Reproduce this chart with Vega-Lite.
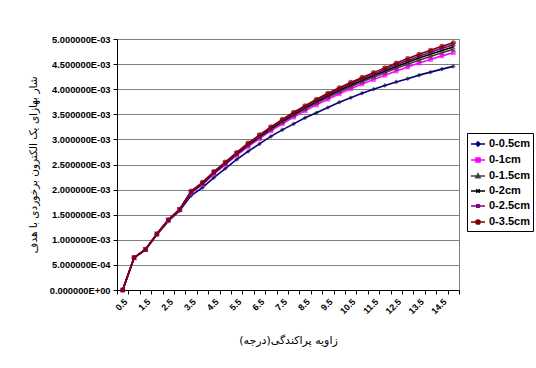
{
"$schema": "https://vega.github.io/schema/vega-lite/v6.json",
"autosize": {"type": "none"},
"width": 342,
"height": 251,
"padding": {"left": 117, "top": 39, "right": 77, "bottom": 78},
"background": "white",
"config": {"view": {"stroke": "#808080", "strokeWidth": 1}},
"data": {"values": [
{"a":0.5,"s":"0-0.5cm","v":1e-7},{"a":1,"s":"0-0.5cm","v":0.64e-3},{"a":1.5,"s":"0-0.5cm","v":0.80e-3},{"a":2,"s":"0-0.5cm","v":1.10e-3},{"a":2.5,"s":"0-0.5cm","v":1.37e-3},{"a":3,"s":"0-0.5cm","v":1.58e-3},{"a":3.5,"s":"0-0.5cm","v":1.88e-3},{"a":4,"s":"0-0.5cm","v":2.04e-3},{"a":4.5,"s":"0-0.5cm","v":2.24e-3},{"a":5,"s":"0-0.5cm","v":2.42e-3},{"a":5.5,"s":"0-0.5cm","v":2.60e-3},{"a":6,"s":"0-0.5cm","v":2.76e-3},{"a":6.5,"s":"0-0.5cm","v":2.91e-3},{"a":7,"s":"0-0.5cm","v":3.06e-3},{"a":7.5,"s":"0-0.5cm","v":3.19e-3},{"a":8,"s":"0-0.5cm","v":3.31e-3},{"a":8.5,"s":"0-0.5cm","v":3.43e-3},{"a":9,"s":"0-0.5cm","v":3.53e-3},{"a":9.5,"s":"0-0.5cm","v":3.635e-3},{"a":10,"s":"0-0.5cm","v":3.74e-3},{"a":10.5,"s":"0-0.5cm","v":3.83e-3},{"a":11,"s":"0-0.5cm","v":3.92e-3},{"a":11.5,"s":"0-0.5cm","v":4.00e-3},{"a":12,"s":"0-0.5cm","v":4.075e-3},{"a":12.5,"s":"0-0.5cm","v":4.145e-3},{"a":13,"s":"0-0.5cm","v":4.21e-3},{"a":13.5,"s":"0-0.5cm","v":4.28e-3},{"a":14,"s":"0-0.5cm","v":4.34e-3},{"a":14.5,"s":"0-0.5cm","v":4.40e-3},{"a":15,"s":"0-0.5cm","v":4.455e-3},
{"a":0.5,"s":"0-1cm","v":1e-7},{"a":1,"s":"0-1cm","v":0.643e-3},{"a":1.5,"s":"0-1cm","v":0.806e-3},{"a":2,"s":"0-1cm","v":1.112e-3},{"a":2.5,"s":"0-1cm","v":1.387e-3},{"a":3,"s":"0-1cm","v":1.597e-3},{"a":3.5,"s":"0-1cm","v":1.932e-3},{"a":4,"s":"0-1cm","v":2.101e-3},{"a":4.5,"s":"0-1cm","v":2.310e-3},{"a":5,"s":"0-1cm","v":2.495e-3},{"a":5.5,"s":"0-1cm","v":2.681e-3},{"a":6,"s":"0-1cm","v":2.856e-3},{"a":6.5,"s":"0-1cm","v":3.014e-3},{"a":7,"s":"0-1cm","v":3.170e-3},{"a":7.5,"s":"0-1cm","v":3.312e-3},{"a":8,"s":"0-1cm","v":3.443e-3},{"a":8.5,"s":"0-1cm","v":3.569e-3},{"a":9,"s":"0-1cm","v":3.687e-3},{"a":9.5,"s":"0-1cm","v":3.800e-3},{"a":10,"s":"0-1cm","v":3.908e-3},{"a":10.5,"s":"0-1cm","v":4.007e-3},{"a":11,"s":"0-1cm","v":4.103e-3},{"a":11.5,"s":"0-1cm","v":4.191e-3},{"a":12,"s":"0-1cm","v":4.278e-3},{"a":12.5,"s":"0-1cm","v":4.363e-3},{"a":13,"s":"0-1cm","v":4.442e-3},{"a":13.5,"s":"0-1cm","v":4.521e-3},{"a":14,"s":"0-1cm","v":4.592e-3},{"a":14.5,"s":"0-1cm","v":4.664e-3},{"a":15,"s":"0-1cm","v":4.728e-3},
{"a":0.5,"s":"0-1.5cm","v":1e-7},{"a":1,"s":"0-1.5cm","v":0.644e-3},{"a":1.5,"s":"0-1.5cm","v":0.807e-3},{"a":2,"s":"0-1.5cm","v":1.114e-3},{"a":2.5,"s":"0-1.5cm","v":1.392e-3},{"a":3,"s":"0-1.5cm","v":1.602e-3},{"a":3.5,"s":"0-1.5cm","v":1.945e-3},{"a":4,"s":"0-1.5cm","v":2.116e-3},{"a":4.5,"s":"0-1.5cm","v":2.326e-3},{"a":5,"s":"0-1.5cm","v":2.514e-3},{"a":5.5,"s":"0-1.5cm","v":2.701e-3},{"a":6,"s":"0-1.5cm","v":2.879e-3},{"a":6.5,"s":"0-1.5cm","v":3.040e-3},{"a":7,"s":"0-1.5cm","v":3.197e-3},{"a":7.5,"s":"0-1.5cm","v":3.341e-3},{"a":8,"s":"0-1.5cm","v":3.476e-3},{"a":8.5,"s":"0-1.5cm","v":3.603e-3},{"a":9,"s":"0-1.5cm","v":3.724e-3},{"a":9.5,"s":"0-1.5cm","v":3.840e-3},{"a":10,"s":"0-1.5cm","v":3.949e-3},{"a":10.5,"s":"0-1.5cm","v":4.050e-3},{"a":11,"s":"0-1.5cm","v":4.147e-3},{"a":11.5,"s":"0-1.5cm","v":4.238e-3},{"a":12,"s":"0-1.5cm","v":4.327e-3},{"a":12.5,"s":"0-1.5cm","v":4.415e-3},{"a":13,"s":"0-1.5cm","v":4.498e-3},{"a":13.5,"s":"0-1.5cm","v":4.579e-3},{"a":14,"s":"0-1.5cm","v":4.653e-3},{"a":14.5,"s":"0-1.5cm","v":4.728e-3},{"a":15,"s":"0-1.5cm","v":4.793e-3},
{"a":0.5,"s":"0-2cm","v":1e-7},{"a":1,"s":"0-2cm","v":0.644e-3},{"a":1.5,"s":"0-2cm","v":0.808e-3},{"a":2,"s":"0-2cm","v":1.116e-3},{"a":2.5,"s":"0-2cm","v":1.395e-3},{"a":3,"s":"0-2cm","v":1.605e-3},{"a":3.5,"s":"0-2cm","v":1.954e-3},{"a":4,"s":"0-2cm","v":2.126e-3},{"a":4.5,"s":"0-2cm","v":2.338e-3},{"a":5,"s":"0-2cm","v":2.527e-3},{"a":5.5,"s":"0-2cm","v":2.715e-3},{"a":6,"s":"0-2cm","v":2.895e-3},{"a":6.5,"s":"0-2cm","v":3.058e-3},{"a":7,"s":"0-2cm","v":3.216e-3},{"a":7.5,"s":"0-2cm","v":3.362e-3},{"a":8,"s":"0-2cm","v":3.499e-3},{"a":8.5,"s":"0-2cm","v":3.627e-3},{"a":9,"s":"0-2cm","v":3.751e-3},{"a":9.5,"s":"0-2cm","v":3.869e-3},{"a":10,"s":"0-2cm","v":3.978e-3},{"a":10.5,"s":"0-2cm","v":4.080e-3},{"a":11,"s":"0-2cm","v":4.178e-3},{"a":11.5,"s":"0-2cm","v":4.271e-3},{"a":12,"s":"0-2cm","v":4.362e-3},{"a":12.5,"s":"0-2cm","v":4.453e-3},{"a":13,"s":"0-2cm","v":4.538e-3},{"a":13.5,"s":"0-2cm","v":4.620e-3},{"a":14,"s":"0-2cm","v":4.697e-3},{"a":14.5,"s":"0-2cm","v":4.773e-3},{"a":15,"s":"0-2cm","v":4.840e-3},
{"a":0.5,"s":"0-2.5cm","v":1e-7},{"a":1,"s":"0-2.5cm","v":0.645e-3},{"a":1.5,"s":"0-2.5cm","v":0.809e-3},{"a":2,"s":"0-2.5cm","v":1.118e-3},{"a":2.5,"s":"0-2.5cm","v":1.397e-3},{"a":3,"s":"0-2.5cm","v":1.607e-3},{"a":3.5,"s":"0-2.5cm","v":1.962e-3},{"a":4,"s":"0-2.5cm","v":2.136e-3},{"a":4.5,"s":"0-2.5cm","v":2.349e-3},{"a":5,"s":"0-2.5cm","v":2.538e-3},{"a":5.5,"s":"0-2.5cm","v":2.727e-3},{"a":6,"s":"0-2.5cm","v":2.910e-3},{"a":6.5,"s":"0-2.5cm","v":3.074e-3},{"a":7,"s":"0-2.5cm","v":3.233e-3},{"a":7.5,"s":"0-2.5cm","v":3.381e-3},{"a":8,"s":"0-2.5cm","v":3.519e-3},{"a":8.5,"s":"0-2.5cm","v":3.648e-3},{"a":9,"s":"0-2.5cm","v":3.776e-3},{"a":9.5,"s":"0-2.5cm","v":3.894e-3},{"a":10,"s":"0-2.5cm","v":4.004e-3},{"a":10.5,"s":"0-2.5cm","v":4.108e-3},{"a":11,"s":"0-2.5cm","v":4.207e-3},{"a":11.5,"s":"0-2.5cm","v":4.300e-3},{"a":12,"s":"0-2.5cm","v":4.394e-3},{"a":12.5,"s":"0-2.5cm","v":4.486e-3},{"a":13,"s":"0-2.5cm","v":4.574e-3},{"a":13.5,"s":"0-2.5cm","v":4.658e-3},{"a":14,"s":"0-2.5cm","v":4.736e-3},{"a":14.5,"s":"0-2.5cm","v":4.814e-3},{"a":15,"s":"0-2.5cm","v":4.883e-3},
{"a":0.5,"s":"0-3.5cm","v":1e-7},{"a":1,"s":"0-3.5cm","v":0.645e-3},{"a":1.5,"s":"0-3.5cm","v":0.81e-3},{"a":2,"s":"0-3.5cm","v":1.12e-3},{"a":2.5,"s":"0-3.5cm","v":1.40e-3},{"a":3,"s":"0-3.5cm","v":1.61e-3},{"a":3.5,"s":"0-3.5cm","v":1.97e-3},{"a":4,"s":"0-3.5cm","v":2.145e-3},{"a":4.5,"s":"0-3.5cm","v":2.36e-3},{"a":5,"s":"0-3.5cm","v":2.55e-3},{"a":5.5,"s":"0-3.5cm","v":2.74e-3},{"a":6,"s":"0-3.5cm","v":2.925e-3},{"a":6.5,"s":"0-3.5cm","v":3.09e-3},{"a":7,"s":"0-3.5cm","v":3.25e-3},{"a":7.5,"s":"0-3.5cm","v":3.40e-3},{"a":8,"s":"0-3.5cm","v":3.54e-3},{"a":8.5,"s":"0-3.5cm","v":3.67e-3},{"a":9,"s":"0-3.5cm","v":3.80e-3},{"a":9.5,"s":"0-3.5cm","v":3.92e-3},{"a":10,"s":"0-3.5cm","v":4.03e-3},{"a":10.5,"s":"0-3.5cm","v":4.135e-3},{"a":11,"s":"0-3.5cm","v":4.235e-3},{"a":11.5,"s":"0-3.5cm","v":4.33e-3},{"a":12,"s":"0-3.5cm","v":4.425e-3},{"a":12.5,"s":"0-3.5cm","v":4.52e-3},{"a":13,"s":"0-3.5cm","v":4.61e-3},{"a":13.5,"s":"0-3.5cm","v":4.695e-3},{"a":14,"s":"0-3.5cm","v":4.775e-3},{"a":14.5,"s":"0-3.5cm","v":4.855e-3},{"a":15,"s":"0-3.5cm","v":4.925e-3}
]},
"encoding": {
  "x": {"field": "a", "type": "ordinal", "bandPosition": 0.5,
    "scale": {"type": "band", "paddingInner": 0, "paddingOuter": 0},
    "axis": {"title": "زاویه پراکندگی(درجه)", "titleFont": "DejaVu Sans", "titleFontWeight": "normal", "titleFontSize": 11, "titleColor": "black", "titlePadding": 19,
      "labelAngle": -45, "labelExpr": "datum.value % 1 == 0.5 ? datum.label : ''", "labelFont": "Liberation Sans", "labelFontWeight": "bold", "labelFontSize": 9, "labelColor": "black",
      "tickBand": "extent", "tickSize": 4, "tickColor": "black", "domainColor": "black", "grid": false, "labelPadding": 3}},
  "y": {"field": "v", "type": "quantitative",
    "scale": {"domain": [0, 0.005], "nice": false},
    "axis": {"title": "شار بهازای یک الکترون برخوردی با هدف", "titleFont": "DejaVu Sans", "titleFontWeight": "normal", "titleFontSize": 10.5, "titleColor": "black", "titlePadding": 11,
      "values": [0, 0.0005, 0.001, 0.0015, 0.002, 0.0025, 0.003, 0.0035, 0.004, 0.0045, 0.005],
      "labelExpr": "datum.value < 1e-9 ? '0.000000E+00' : format(datum.value / pow(10, floor(log(datum.value) / LN10 + 1e-9)), '.6f') + 'E-0' + (-floor(log(datum.value) / LN10 + 1e-9))",
      "labelFont": "Liberation Sans", "labelFontWeight": "bold", "labelFontSize": 9.3, "labelColor": "black", "labelPadding": 3,
      "tickSize": 4, "tickColor": "black", "domainColor": "black", "grid": true, "gridColor": "#808080", "gridWidth": 1}}
},
"layer": [
  {"mark": {"type": "line", "strokeWidth": 1.6},
   "encoding": {"color": {"field": "s", "type": "nominal",
     "scale": {"domain": ["0-0.5cm", "0-1cm", "0-1.5cm", "0-2cm", "0-2.5cm", "0-3.5cm"], "range": ["#000080", "#FF00FF", "#404040", "#000000", "#800080", "#800000"]},
     "legend": {"orient": "none", "legendX": 350, "legendY": 94, "title": null, "strokeColor": "black", "fillColor": "white", "padding": 3,
       "labelFont": "Liberation Sans", "labelFontWeight": "bold", "labelFontSize": 11, "labelColor": "black", "labelOffset": 3,
       "symbolSize": 196, "rowPadding": 2, "symbolStrokeWidth": 1.5,
       "encode": {"symbols": {"update": {
         "shape": {"signal": "datum.value == '0-0.5cm' ? 'M-1,0H1M0,-0.3L0.3,0L0,0.3L-0.3,0Z' : datum.value == '0-1cm' ? 'M-1,0H1M-0.3,-0.3H0.3V0.3H-0.3Z' : datum.value == '0-1.5cm' ? 'M-1,0H1M0,-0.3L0.3,0.25H-0.3Z' : datum.value == '0-2cm' ? 'M-1,0H1M-0.25,-0.25L0.25,0.25M-0.25,0.25L0.25,-0.25' : datum.value == '0-2.5cm' ? 'M-1,0H1M-0.25,-0.25L0.25,0.25M-0.25,0.25L0.25,-0.25M0,-0.3V0.3' : 'M-1,0H1M-0.3,0A0.3,0.3 0 1,0 0.3,0A0.3,0.3 0 1,0 -0.3,0Z'"},
         "fill": {"signal": "scale('color', datum.value)"},
         "stroke": {"signal": "scale('color', datum.value)"},
         "strokeWidth": {"value": 1.5}}}}}}}},
  {"transform": [{"filter": "datum.s == '0-0.5cm'"}], "mark": {"type": "point", "shape": "diamond", "filled": true, "size": 22, "color": "#1a1a40"}},
  {"transform": [{"filter": "datum.s == '0-1cm'"}], "mark": {"type": "point", "shape": "square", "filled": true, "size": 22, "color": "#FF00FF"}},
  {"transform": [{"filter": "datum.s == '0-1.5cm'"}], "mark": {"type": "point", "shape": "triangle-up", "filled": true, "size": 22, "color": "#404040"}},
  {"transform": [{"filter": "datum.s == '0-2cm'"}], "mark": {"type": "point", "shape": "M-1,-1L1,1M-1,1L1,-1", "filled": false, "size": 18, "strokeWidth": 1, "color": "#000000"}},
  {"transform": [{"filter": "datum.s == '0-2.5cm'"}], "mark": {"type": "point", "shape": "M-1,-1L1,1M-1,1L1,-1M0,-1L0,1", "filled": false, "size": 18, "strokeWidth": 1, "color": "#800080"}},
  {"transform": [{"filter": "datum.s == '0-3.5cm'"}], "mark": {"type": "point", "shape": "circle", "filled": true, "size": 26, "color": "#800000"}}
]
}
